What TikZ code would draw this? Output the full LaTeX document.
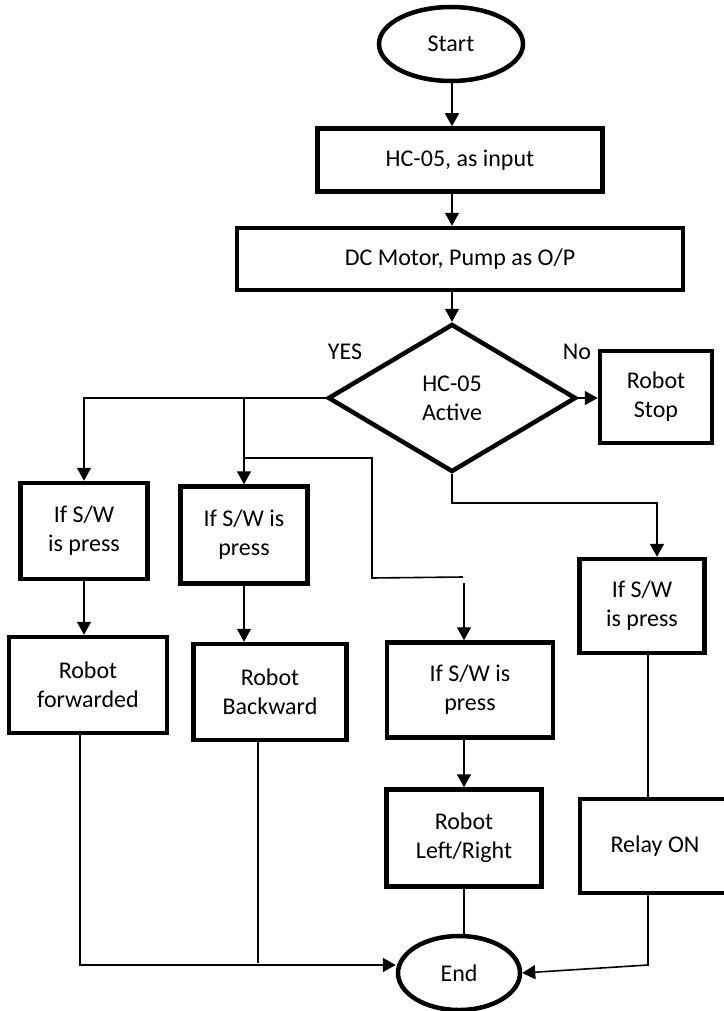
\documentclass[tikz,border=0pt]{standalone}
\usepackage{fontspec}
\setmainfont{Carlito}
\usetikzlibrary{shapes.geometric,arrows.meta}

\begin{document}
\begin{tikzpicture}[x=1pt, y=-1pt,
  font=\fontsize{24}{29}\selectfont,
  blk/.style={draw, line width=4.5pt, rectangle, align=center, inner sep=0pt},
  term/.style={draw, line width=4.5pt, ellipse, align=center, inner sep=0pt},
  test/.style={draw, line width=4.5pt, diamond, align=center, inner sep=0pt},
  conn/.style={line width=1.6pt},
  arr/.style={conn, -{Triangle[length=13pt,width=14pt]}}]
  \useasboundingbox (0,0) rectangle (723,1011);
  \node[term, minimum width=144, minimum height=74] (start) at (451,44) {Start};
  \node[blk, minimum width=285, minimum height=63] (hc) at (460,160) {HC-05, as input};
  \node[blk, minimum width=446, minimum height=62] (dc) at (460,259) {DC Motor, Pump as O/P};
  \node[test, minimum width=248, minimum height=148] (dec) at (452,398) {HC-05\\Active};
  \node[blk, minimum width=112, minimum height=92] (stop) at (656,397) {Robot\\Stop};
  \node (yes) at (345,352) {YES};
  \node (no) at (577,352) {No};
  \node[blk, minimum width=127, minimum height=96] (sw1) at (84,531) {If S/W\\is press};
  \node[blk, minimum width=127, minimum height=97] (sw2) at (244,535) {If S/W is\\press};
  \node[blk, minimum width=158, minimum height=96] (fwd) at (88,685) {Robot\\forwarded};
  \node[blk, minimum width=153, minimum height=96] (bwd) at (270,692) {Robot\\Backward};
  \node[blk, minimum width=166, minimum height=95] (sw3) at (470,690) {If S/W is\\press};
  \node[blk, minimum width=155, minimum height=97] (lr) at (464,838) {Robot\\Left/Right};
  \node[blk, minimum width=125, minimum height=94] (sw4) at (642,606) {If S/W\\is press};
  \node[blk, minimum width=150, minimum height=94] (relay) at (655,846) {Relay ON};
  \node[term, minimum width=122, minimum height=74] (end) at (459,973) {End};
  \coordinate (j1) at (244,458);
  \coordinate (j2) at (372,458);
  \coordinate (j3) at (372,578);
  \coordinate (j4) at (463,577);
  \coordinate (j5) at (464,583);
  \coordinate (k4) at (657,503);
  \coordinate (b1) at (80,965);
  \coordinate (b2) at (258,963);
  \coordinate (b3) at (648,965);
  \draw[arr] (dec.north |- start.south) -- (dec.north |- hc.north);
  \draw[arr] (dec.north |- hc.south) -- (dec.north |- dc.north);
  \draw[arr] (dec.north |- dc.south) -- (dec.north);
  \draw[arr] (dec.east) -- (stop.west |- dec.east);
  \draw[arr] (dec.west) -| (sw1.north);
  \draw[arr] (sw2.north |- dec.west) -- (sw2.north);
  \draw[conn] (j1) -- (j2) -- (j3) -- (j4);
  \draw[arr] (j5) -- (j5 |- sw3.north);
  \draw[arr] (dec.south) |- (k4) -- (k4 |- sw4.north);
  \draw[arr] (sw1.south) -- (sw1.south |- fwd.north);
  \draw[arr] (sw2.south) -- (sw2.south |- bwd.north);
  \draw[arr] (lr.north |- sw3.south) -- (lr.north);
  \draw[arr] (fwd.south -| b1) -- (b1) -- (end.west |- b1);
  \draw[conn] (bwd.south -| b2) -- (b2);
  \draw[conn] (lr.south) -- (end.north -| lr.south);
  \draw[conn] (sw4.south -| b3) -- (relay.north -| b3);
  \draw[arr] (relay.south -| b3) -- (b3) -- (end.east);
\end{tikzpicture}
\end{document}
